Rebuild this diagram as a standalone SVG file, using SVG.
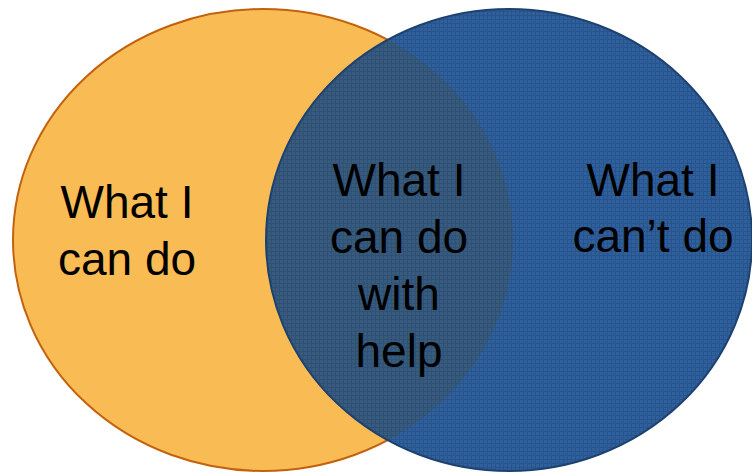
<svg xmlns="http://www.w3.org/2000/svg" width="752" height="472" viewBox="0 0 752 472">
<style>
.lbl{font-family:"Liberation Sans",Arial,sans-serif;font-size:46px;fill:#000;text-anchor:middle}
</style>
<defs>
<pattern id="tex" width="4" height="4" patternUnits="userSpaceOnUse">
<rect width="4" height="4" fill="none"/>
<path d="M0 3.5H4M3.5 0V4" stroke="#1a3d6a" stroke-width="1" opacity="0.35"/>
</pattern>
<clipPath id="orangeClip"><ellipse cx="263" cy="240" rx="250" ry="231"/></clipPath>
</defs>
<rect width="752" height="472" fill="#fff"/>
<g id="can-do">
<ellipse cx="263" cy="240" rx="250" ry="231" fill="#F9BB53" stroke="#C2620F" stroke-width="2"/>
</g>
<g id="cant-do">
<ellipse cx="509" cy="240" rx="243" ry="231" fill="#2E609D"/>
<ellipse cx="509" cy="240" rx="243" ry="231" fill="#375A7D" clip-path="url(#orangeClip)"/>
<ellipse cx="509" cy="240" rx="243" ry="231" fill="url(#tex)" stroke="#1D4270" stroke-width="2"/>
</g>
<g id="text-can-do">
<text class="lbl" x="127" y="218">What I</text>
<text class="lbl" x="127" y="275">can do</text>
</g>
<g id="text-with-help">
<text class="lbl" x="399" y="196">What I</text>
<text class="lbl" x="399" y="253">can do</text>
<text class="lbl" x="399" y="310">with</text>
<text class="lbl" x="399" y="367">help</text>
</g>
<g id="text-cant-do">
<text class="lbl" x="653" y="196">What I</text>
<text class="lbl" x="653" y="252">can’t do</text>
</g>
</svg>
